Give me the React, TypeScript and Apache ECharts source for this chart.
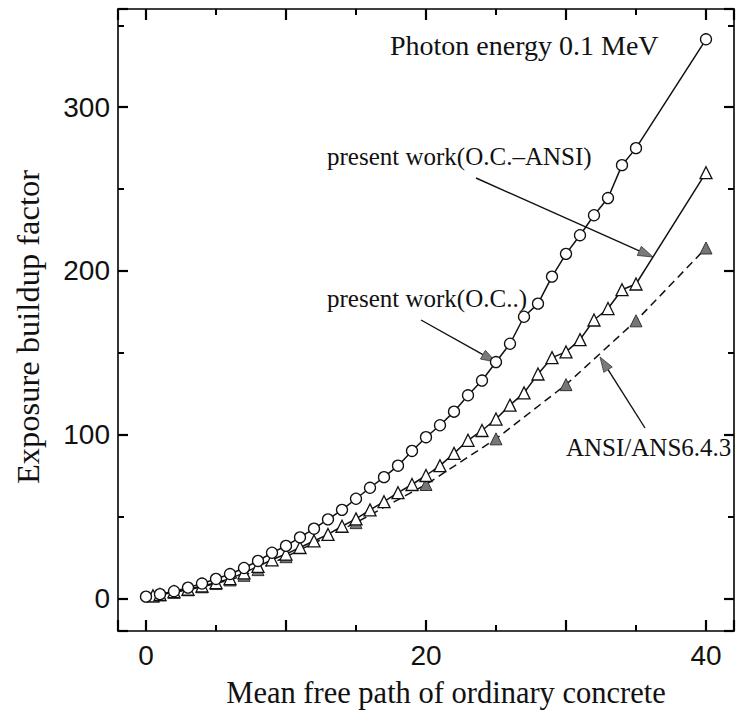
import { useEffect, useRef } from "react";
import * as echarts from "echarts";

// Present work (O.C.) — open circles
const circleX = [0, 1, 2, 3, 4, 5, 6, 7, 8, 9, 10, 11, 12, 13, 14, 15, 16, 17, 18, 19, 20, 21, 22, 23, 24, 25, 26, 27, 28, 29, 30, 31, 32, 33, 34, 35, 40];
const circleY = [1, 2.5, 4.3, 6.5, 9, 11.8, 14.8, 18.5, 22.8, 27.8, 32, 37.2, 42.5, 48.2, 54, 60.8, 67.5, 74, 81, 90, 98.4, 105.7, 114, 124, 133, 144.3, 155.5, 172, 180, 196.5, 210.4, 221.8, 234, 244.5, 264.6, 275, 341.5];

// Present work (O.C.–ANSI) — open triangles
const triX = [0.5, 1, 2, 3, 4, 5, 6, 7, 8, 9, 10, 11, 12, 13, 14, 15, 16, 17, 18, 19, 20, 21, 22, 23, 24, 25, 26, 27, 28, 29, 30, 31, 32, 33, 34, 35, 40];
const triY = [1.5, 2.3, 4, 5.5, 7.5, 9.5, 12, 15.5, 19.5, 23.5, 27, 31, 35, 39, 44, 48.5, 54, 59, 64.5, 69.5, 75, 81, 88.5, 96.5, 102.5, 109.5, 118, 125.5, 137, 147, 150.5, 158, 170, 177, 188.5, 192, 260];

// ANSI/ANS6.4.3 — filled triangles, dashed
const ansiX = [0.5, 1, 2, 3, 4, 5, 6, 7, 8, 10, 15, 20, 25, 30, 35, 40];
const ansiY = [1.4, 2.1, 3.6, 5.2, 7, 9, 11.2, 14, 17.5, 25.4, 46.2, 69.5, 97.4, 130.5, 169.5, 214];

// tick labels shown
const xLabels = [0, 20, 40];
const yLabels = [0, 100, 200, 300];

const X_MIN = -2;
const X_MAX = 42;
const Y_MIN = -20;
const Y_MAX = 360;

const INK = "#111111";
const SERIF = "'Liberation Serif', 'Times New Roman', serif";
const SANS = "'Liberation Sans', Arial, sans-serif";

function arrow(x1: number, y1: number, x2: number, y2: number) {
  const dx = x2 - x1;
  const dy = y2 - y1;
  const len = Math.sqrt(dx * dx + dy * dy);
  const ux = dx / len;
  const uy = dy / len;
  const hl = 15;
  const hw = 5;
  const bx = x2 - ux * hl;
  const by = y2 - uy * hl;
  const nx = -uy;
  const ny = ux;
  return [
    {
      type: "line",
      shape: { x1, y1, x2: bx, y2: by },
      style: { stroke: INK, lineWidth: 1.4 },
      silent: true,
    },
    {
      type: "polygon",
      shape: {
        points: [
          [x2, y2],
          [bx + nx * hw, by + ny * hw],
          [bx - nx * hw, by - ny * hw],
        ],
      },
      style: { fill: "#7a7a7a", stroke: "#333", lineWidth: 0.8 },
      silent: true,
    },
  ];
}

function textEl(text: string, x: number, y: number, size: number) {
  return {
    type: "text",
    x,
    y,
    silent: true,
    style: {
      text,
      fill: INK,
      fontFamily: SERIF,
      fontSize: size,
      align: "left",
      verticalAlign: "middle",
    },
  };
}

export default function App() {
  const ref = useRef<HTMLDivElement>(null);

  useEffect(() => {
    document.body.style.margin = "0";
    const chart = echarts.init(ref.current!, null, { renderer: "svg" });

    const mkX = (position: string, showLabels: boolean, name?: string): any => ({
      type: "value",
      position,
      min: X_MIN,
      max: X_MAX,
      splitNumber: 5,
      name: name || "",
      nameLocation: "middle",
      nameGap: 46,
      nameTextStyle: {
        fontFamily: SERIF,
        fontSize: 30.5,
        color: INK,
        padding: [0, 0, 0, 40],
      },
      axisLine: { show: true, onZero: false, lineStyle: { color: "#000", width: 1.6 } },
      axisTick: { show: true, inside: true, length: 11, lineStyle: { color: "#000", width: 2.2 } },
      minorTick: { show: true, splitNumber: 2, length: 6, lineStyle: { color: "#000", width: 2 } },
      axisLabel: showLabels
        ? {
            show: true,
            margin: 10,
            fontFamily: SANS,
            fontSize: 28,
            color: INK,
            formatter: (v: number) => (xLabels.indexOf(v) >= 0 ? String(v) : ""),
          }
        : { show: false },
      splitLine: { show: false },
      minorSplitLine: { show: false },
    });

    const mkY = (position: string, showLabels: boolean, name?: string): any => ({
      type: "value",
      position,
      min: Y_MIN,
      max: Y_MAX,
      splitNumber: 4,
      name: name || "",
      nameLocation: "middle",
      nameGap: 74,
      nameTextStyle: {
        fontFamily: SERIF,
        fontSize: 32.5,
        color: INK,
        padding: [0, 14, 0, 0],
      },
      axisLine: { show: true, onZero: false, lineStyle: { color: "#000", width: 1.6 } },
      axisTick: { show: true, inside: true, length: 10, lineStyle: { color: "#000", width: 2.2 } },
      minorTick: { show: true, splitNumber: 2, length: 6, lineStyle: { color: "#000", width: 2 } },
      axisLabel: showLabels
        ? {
            show: true,
            margin: 8,
            fontFamily: SANS,
            fontSize: 28,
            color: INK,
            formatter: (v: number) => (yLabels.indexOf(v) >= 0 ? String(v) : ""),
          }
        : { show: false },
      splitLine: { show: false },
      minorSplitLine: { show: false },
    });

    chart.setOption({
      animation: false,
      grid: { left: 118, top: 9, right: 1, bottom: 80, containLabel: false },
      xAxis: [mkX("bottom", true, "Mean free path of ordinary concrete"), mkX("top", false)],
      yAxis: [mkY("left", true, "Exposure buildup factor"), mkY("right", false)],
      series: [
        {
          name: "ANSI/ANS6.4.3",
          type: "line",
          xAxisIndex: 0,
          yAxisIndex: 0,
          data: ansiX.map((x, i) => [x, ansiY[i]]),
          symbol: "triangle",
          symbolSize: 12,
          itemStyle: { color: "#767676", borderColor: "#333", borderWidth: 1 },
          lineStyle: { color: INK, width: 1.5, type: [8, 5] },
          emphasis: { disabled: true },
        },
        {
          name: "present work(O.C.–ANSI)",
          type: "line",
          xAxisIndex: 0,
          yAxisIndex: 0,
          data: triX.map((x, i) => [x, triY[i]]),
          symbol: "triangle",
          symbolSize: 12,
          itemStyle: { color: "#ffffff", borderColor: INK, borderWidth: 1.3 },
          lineStyle: { color: INK, width: 1.5 },
          emphasis: { disabled: true },
        },
        {
          name: "present work(O.C..)",
          type: "line",
          xAxisIndex: 0,
          yAxisIndex: 0,
          data: circleX.map((x, i) => [x, circleY[i]]),
          symbol: "circle",
          symbolSize: 11,
          itemStyle: { color: "#ffffff", borderColor: INK, borderWidth: 1.3 },
          lineStyle: { color: INK, width: 1.5 },
          emphasis: { disabled: true },
        },
      ],
      graphic: [
        textEl("Photon energy 0.1 MeV", 390, 45, 28),
        textEl("present work(O.C.–ANSI)", 327, 156, 25),
        textEl("present work(O.C..)", 327, 298, 25),
        textEl("ANSI/ANS6.4.3", 566, 447, 25),
        ...arrow(476, 178, 653, 257),
        ...arrow(421, 320, 496, 362),
        ...arrow(645, 428, 600, 357),
      ],
    });

    return () => chart.dispose();
  }, []);

  return <div ref={ref} style={{ width: 737, height: 713 }} />;
}
